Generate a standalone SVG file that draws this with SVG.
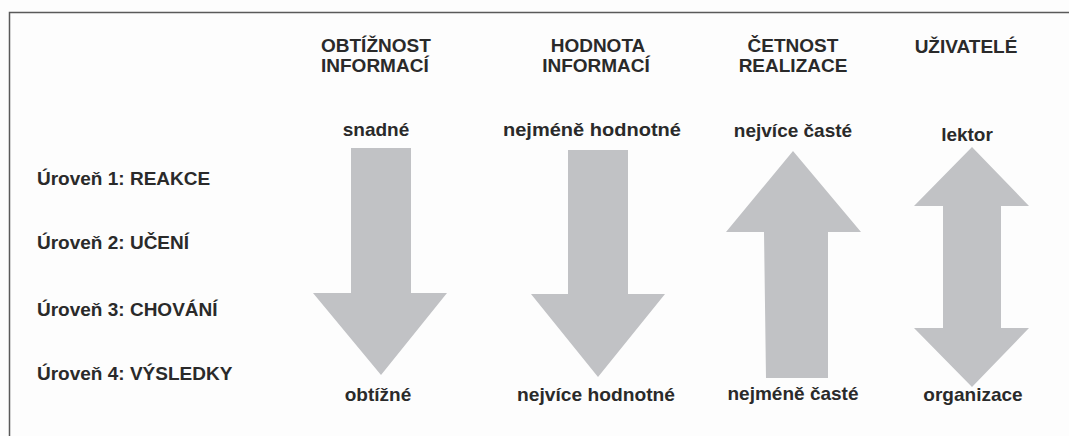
<svg xmlns="http://www.w3.org/2000/svg" width="1069" height="436" viewBox="0 0 1069 436">
<style>
  text { font-family: "Liberation Sans", Arial, sans-serif; font-weight: bold; font-size: 19px; fill: #2a2a2a; }
  .c { text-anchor: middle; }
  .arrow { fill: #c1c2c5; }
  .frame { stroke: #5a5a5a; stroke-width: 1.5; fill: none; }
</style>
<rect x="0" y="0" width="1069" height="436" fill="#fdfdfd"/>
<path class="frame" d="M9.5,436 V12.5 H1069"/>
<g id="levels">
  <text x="37" y="185">Úroveň 1: REAKCE</text>
  <text x="37" y="249">Úroveň 2: UČENÍ</text>
  <text x="37" y="316">Úroveň 3: CHOVÁNÍ</text>
  <text x="37" y="380">Úroveň 4: VÝSLEDKY</text>
</g>
<g id="col-obtiznost">
  <text x="321" y="52">OBTÍŽNOST</text>
  <text x="321" y="72">INFORMACÍ</text>
  <text class="c" x="376" y="136">snadné</text>
  <text class="c" x="378" y="401">obtížné</text>
</g>
<g id="col-hodnota">
  <text class="c" x="598" y="52">HODNOTA</text>
  <text class="c" x="596" y="72">INFORMACÍ</text>
  <text class="c" x="592" y="136" textLength="178" lengthAdjust="spacingAndGlyphs">nejméně hodnotné</text>
  <text class="c" x="596" y="401" textLength="158" lengthAdjust="spacingAndGlyphs">nejvíce hodnotné</text>
</g>
<g id="col-cetnost">
  <text class="c" x="793" y="52">ČETNOST</text>
  <text class="c" x="793" y="72">REALIZACE</text>
  <text class="c" x="793" y="137">nejvíce časté</text>
  <text class="c" x="793" y="400">nejméně časté</text>
</g>
<g id="col-uzivatele">
  <text class="c" x="966" y="53">UŽIVATELÉ</text>
  <text class="c" x="967" y="141">lektor</text>
  <text class="c" x="973" y="401">organizace</text>
</g>
<g id="connectors">
  <polygon class="arrow" points="351,148 411,148 411,293 447,293 381,375 313,293 351,293"/>
  <polygon class="arrow" points="568,150 628,150 628,294 665,294 598,377 531,294 568,294"/>
  <polygon class="arrow" points="793,151 861,232 828,232 828,378 766,378 764,232 726,232"/>
  <polygon class="arrow" points="972,147 1029,206 1001,206 1001,328 1029,328 972,387 914,328 943,328 943,206 914,206"/>
</g>
</svg>
